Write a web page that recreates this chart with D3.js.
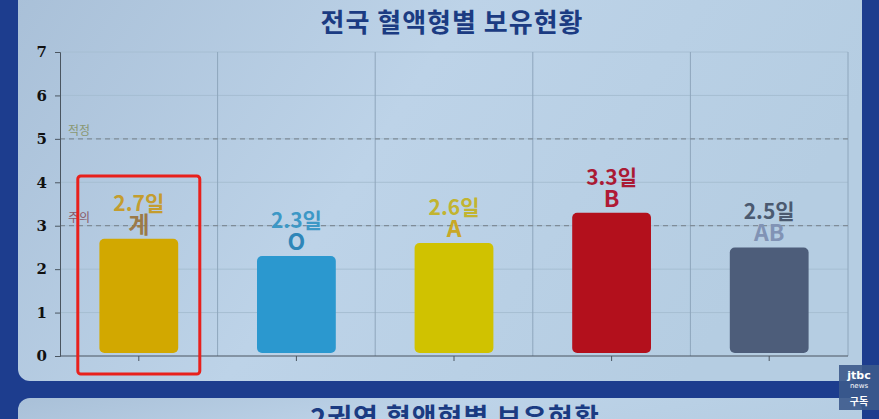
<!DOCTYPE html>
<html>
<head>
<meta charset="utf-8">
<script src="https://cdn.jsdelivr.net/npm/d3@7"></script>
<style>
  body { margin: 0; background: #1d3d8e; }
  svg { display: block; }
</style>
</head>
<body>
<script>
var categories = ["계", "O", "A", "B", "AB"];
var values = [2.7, 2.3, 2.6, 3.3, 2.5];
var valueLabels = ["2.7일", "2.3일", "2.6일", "3.3일", "2.5일"];
var yTicks = [0, 1, 2, 3, 4, 5, 6, 7];
var refValues = [5, 3];
var refLabels = ["적정", "주의"];
var highlighted = "계";

var barColors = ["#d2a800", "#2b98cf", "#d0c200", "#b3101c", "#4d5d7a"];
var valueColors = ["#c49d2e", "#3d98c6", "#c2b430", "#aa1a34", "#4b5a70"];
var catColors = ["#9b7a48", "#2f86b8", "#c9a826", "#b01a36", "#8193b5"];
var refColors = ["#8a9872", "#8a5868"];

drawChart();

function drawChart ()
{
    var width = 879, height = 419;
    var kr = "'Noto Sans CJK KR', 'Noto Sans', sans-serif";

    var svg = d3.select("body").append("svg")
        .attr("width", width)
        .attr("height", height);

    var defs = svg.append("defs");
    var grad = defs.append("linearGradient")
        .attr("id", "panelGrad")
        .attr("x1", "0").attr("y1", "0").attr("x2", "1").attr("y2", "0.3");
    grad.append("stop").attr("offset", "0").attr("stop-color", "#a9c0d8");
    grad.append("stop").attr("offset", "0.5").attr("stop-color", "#bdd3e8");
    grad.append("stop").attr("offset", "1").attr("stop-color", "#b5cde2");

    // top strip
    svg.append("rect").attr("x", 45).attr("y", 0).attr("width", 200).attr("height", 2)
        .attr("fill", "#c8d4e0");

    // main panel
    svg.append("rect")
        .attr("x", 18).attr("y", -12)
        .attr("width", 844).attr("height", 393)
        .attr("rx", 12)
        .attr("fill", "url(#panelGrad)");

    // lower panel (cut off)
    svg.append("rect")
        .attr("x", 18).attr("y", 398)
        .attr("width", 844).attr("height", 60)
        .attr("rx", 12)
        .attr("fill", "url(#panelGrad)");

    svg.append("text")
        .attr("x", 455).attr("y", 428)
        .attr("text-anchor", "middle")
        .attr("font-family", kr).attr("font-weight", 700)
        .attr("font-size", 27).attr("letter-spacing", 1)
        .attr("fill", "#1b3b82")
        .text("2권역 혈액형별 보유현황");

    svg.append("text")
        .attr("x", 452).attr("y", 32)
        .attr("text-anchor", "middle")
        .attr("font-family", kr).attr("font-weight", 700)
        .attr("font-size", 26).attr("letter-spacing", 1)
        .attr("fill", "#1b3b82")
        .text("전국 혈액형별 보유현황");

    var plotLeft = 60, plotRight = 848, plotTop = 52, plotBottom = 356;

    var x = d3.scaleBand().domain(categories).range([plotLeft, plotRight]).padding(0);
    var y = d3.scaleLinear().domain([0, 7]).range([plotBottom, plotTop]);

    var g = svg.append("g");

    // horizontal grid
    g.selectAll(".hgrid").data(yTicks.slice(1)).enter().append("line")
        .attr("class", "hgrid")
        .attr("x1", plotLeft).attr("x2", plotRight)
        .attr("y1", function (d) { return y(d); })
        .attr("y2", function (d) { return y(d); })
        .attr("stroke", "#a6bed2").attr("stroke-width", 1);

    // vertical grid at band edges
    g.selectAll(".vgrid").data(categories).enter().append("line")
        .attr("class", "vgrid")
        .attr("x1", function (d) { return x(d) + x.bandwidth(); })
        .attr("x2", function (d) { return x(d) + x.bandwidth(); })
        .attr("y1", plotTop).attr("y2", plotBottom)
        .attr("stroke", "#8ea6bc").attr("stroke-width", 1);

    // reference lines
    g.selectAll(".ref").data(refValues).enter().append("line")
        .attr("class", "ref")
        .attr("x1", plotLeft).attr("x2", plotRight)
        .attr("y1", function (d) { return y(d); })
        .attr("y2", function (d) { return y(d); })
        .attr("stroke", "#7f8c98").attr("stroke-width", 1.2)
        .attr("stroke-dasharray", "5,4");

    g.selectAll(".refLabel").data(refValues).enter().append("text")
        .attr("class", "refLabel")
        .attr("x", plotLeft + 8)
        .attr("y", function (d) { return y(d) - 4; })
        .attr("font-family", kr).attr("font-size", 12)
        .attr("fill", function (d, i) { return refColors[i]; })
        .text(function (d, i) { return refLabels[i]; });

    // axes
    var yAxis = d3.axisLeft(y).tickValues(yTicks).tickFormat(d3.format("d"))
        .tickSize(5).tickPadding(8);
    var yg = g.append("g").attr("transform", "translate(" + plotLeft + ",0)").call(yAxis);
    yg.select(".domain").attr("stroke", "#4a5560");
    yg.selectAll(".tick line").attr("stroke", "#4a5560");
    yg.selectAll(".tick text")
        .attr("font-family", "'DejaVu Serif', serif")
        .attr("font-weight", 700).attr("font-size", 15)
        .attr("fill", "#111");

    var xAxis = d3.axisBottom(x).tickSize(5).tickFormat("");
    var xg = g.append("g").attr("transform", "translate(0," + plotBottom + ")").call(xAxis);
    xg.select(".domain").attr("stroke", "#4a5560").attr("d", "M" + plotLeft + ",0H" + plotRight);
    xg.selectAll(".tick line").attr("stroke", "#4a5560");

    // bars
    var bw = x.bandwidth() * 0.5;
    g.selectAll(".bar").data(values).enter().append("rect")
        .attr("class", "bar")
        .attr("x", function (d, i) { return x(categories[i]) + (x.bandwidth() - bw) / 2; })
        .attr("y", function (d) { return y(d); })
        .attr("width", bw)
        .attr("height", function (d) { return y(0) - y(d) - 3; })
        .attr("rx", 5)
        .attr("fill", function (d, i) { return barColors[i]; });

    g.selectAll(".valLabel").data(values).enter().append("text")
        .attr("class", "valLabel")
        .attr("x", function (d, i) { return x(categories[i]) + x.bandwidth() / 2; })
        .attr("y", function (d) { return y(d) - 28; })
        .attr("text-anchor", "middle")
        .attr("font-family", kr).attr("font-weight", 700).attr("font-size", 21)
        .attr("fill", function (d, i) { return valueColors[i]; })
        .text(function (d, i) { return valueLabels[i]; });

    g.selectAll(".catLabel").data(values).enter().append("text")
        .attr("class", "catLabel")
        .attr("x", function (d, i) { return x(categories[i]) + x.bandwidth() / 2; })
        .attr("y", function (d) { return y(d) - 6; })
        .attr("text-anchor", "middle")
        .attr("font-family", kr).attr("font-weight", 700).attr("font-size", 23)
        .attr("fill", function (d, i) { return catColors[i]; })
        .text(function (d, i) { return categories[i]; });

    // highlight box
    var hx = x(highlighted) + x.bandwidth() / 2;
    g.append("rect")
        .attr("x", hx - 61).attr("y", 176)
        .attr("width", 122).attr("height", 198)
        .attr("rx", 3)
        .attr("fill", "none")
        .attr("stroke", "#e8201c").attr("stroke-width", 3);

    // broadcaster badge
    var badge = svg.append("g").attr("transform", "translate(839,365)");
    badge.append("rect").attr("width", 40).attr("height", 45).attr("fill", "#3c5a8c").attr("opacity", 0.9);
    badge.append("text").attr("x", 20).attr("y", 14).attr("text-anchor", "middle")
        .attr("font-family", "'DejaVu Sans', sans-serif").attr("font-weight", 700)
        .attr("font-size", 11).attr("fill", "#fff").text("jtbc");
    badge.append("text").attr("x", 20).attr("y", 23).attr("text-anchor", "middle")
        .attr("font-family", "'DejaVu Sans', sans-serif")
        .attr("font-size", 7).attr("fill", "#fff").text("news");
    badge.append("text").attr("x", 20).attr("y", 40).attr("text-anchor", "middle")
        .attr("font-family", kr).attr("font-weight", 700)
        .attr("font-size", 10).attr("fill", "#fff").text("구독");
}
</script>
</body>
</html>
